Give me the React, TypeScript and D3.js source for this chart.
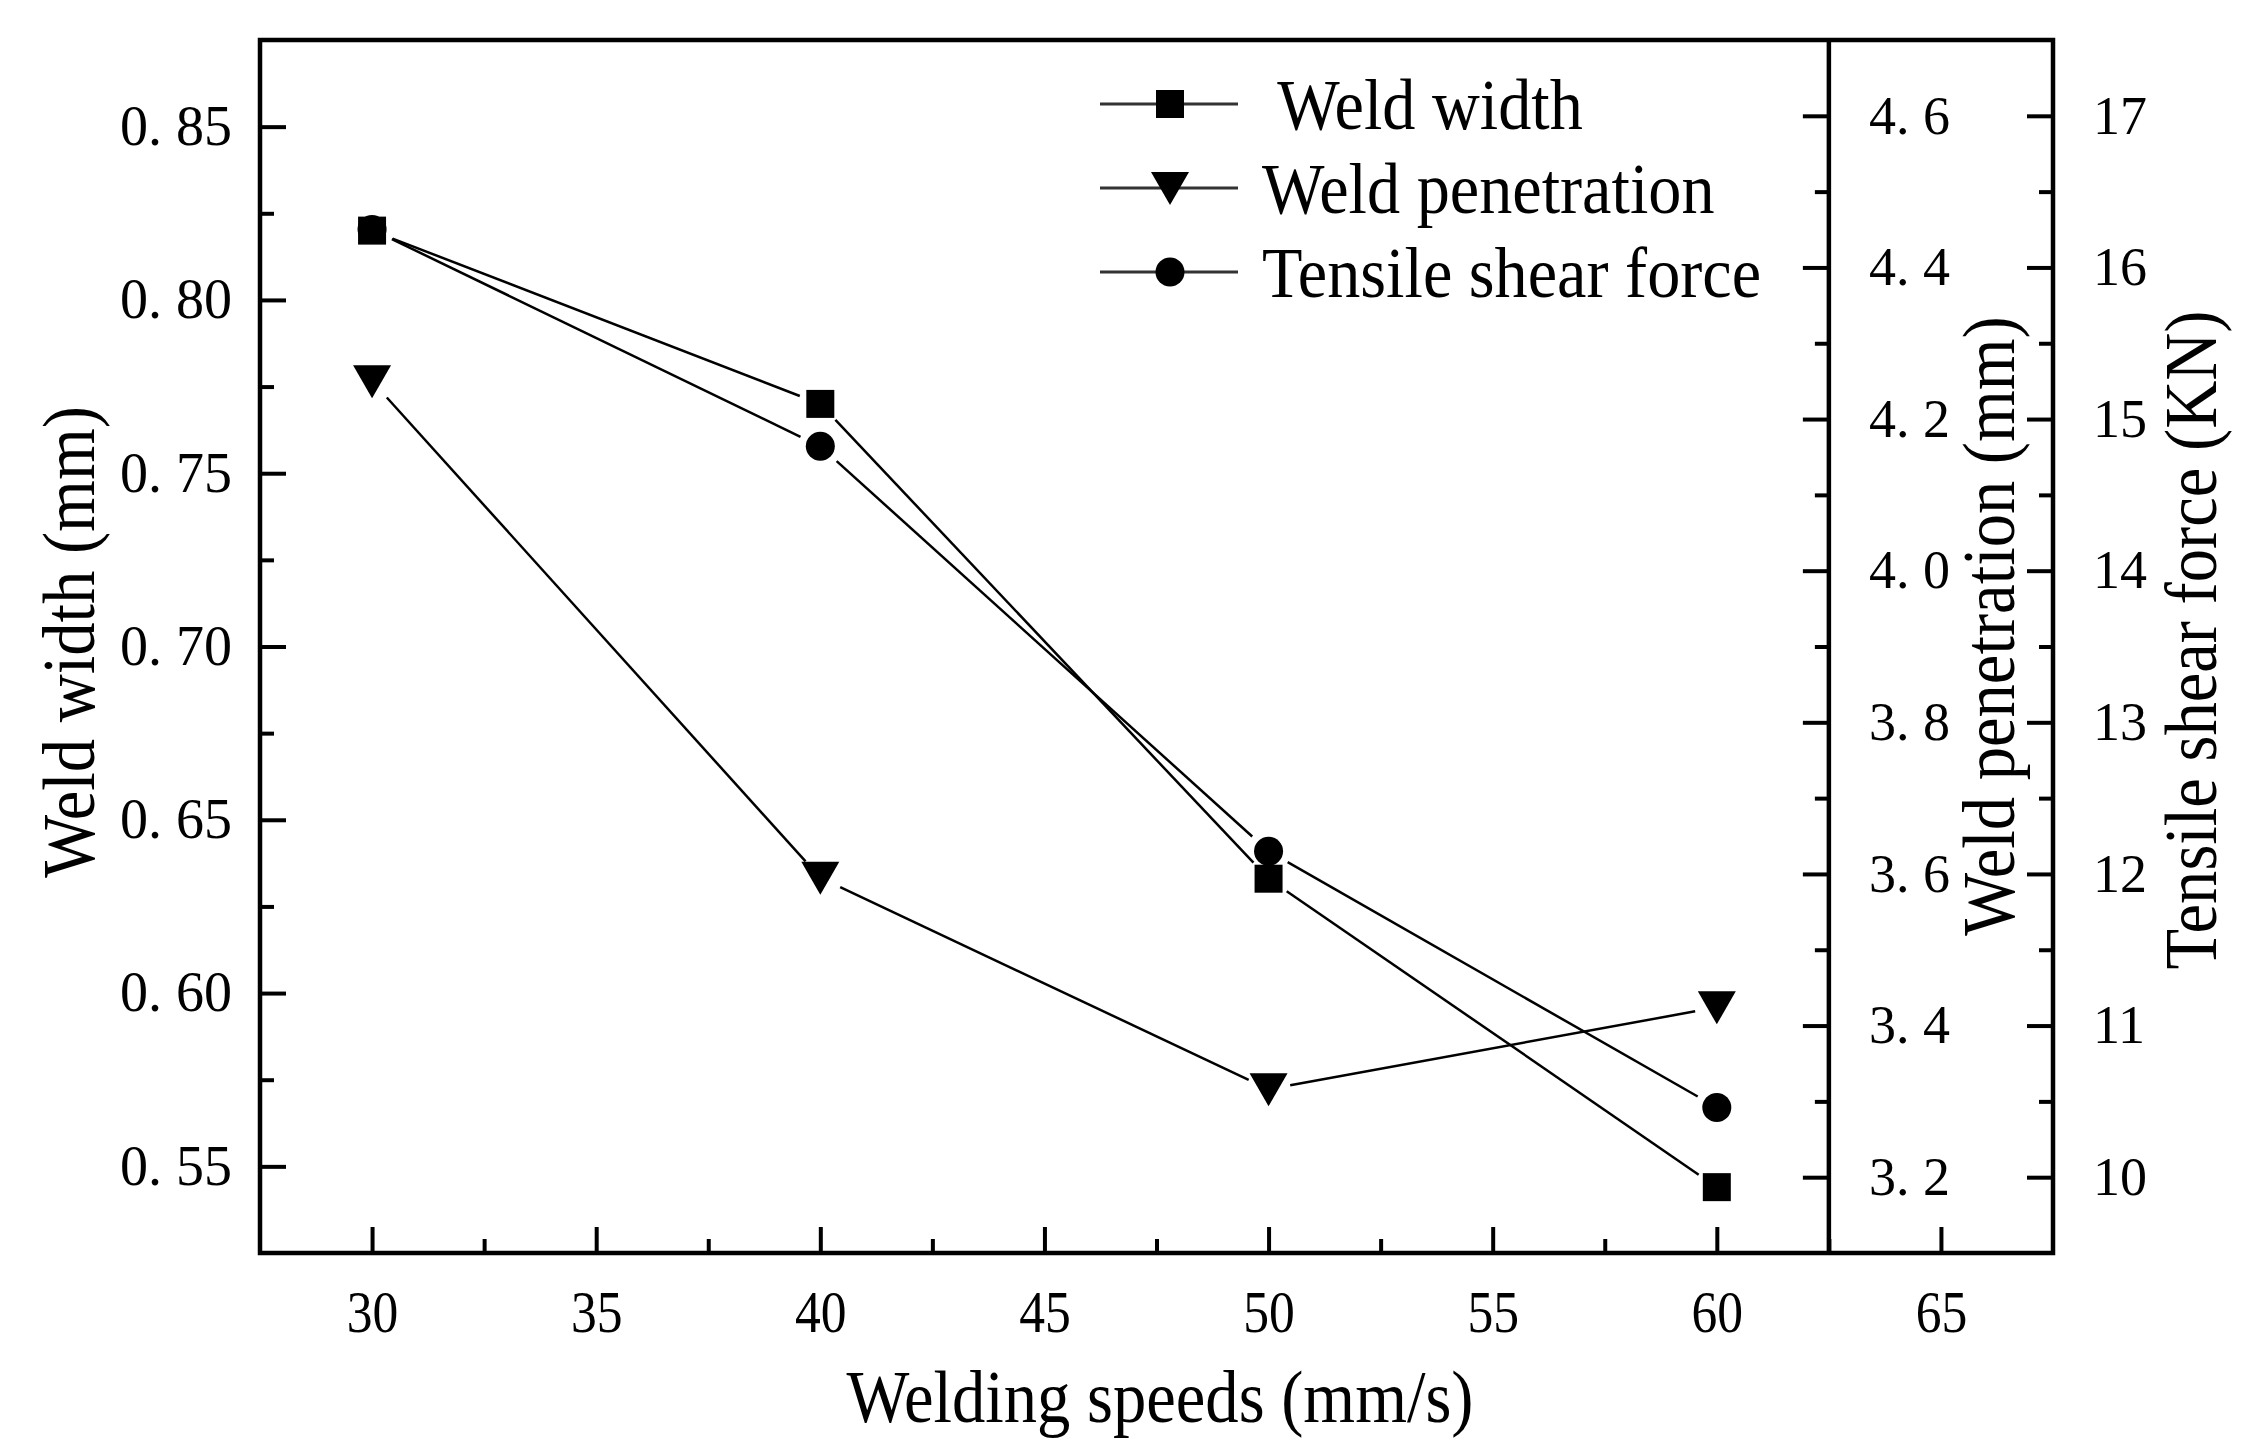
import React, { useEffect, useRef } from 'react';
import * as d3 from 'd3';

// values
const speeds = [30, 40, 50, 60];
const weldWidth = [0.82, 0.77, 0.633, 0.544];
const weldPenetration = [4.25, 3.595, 3.316, 3.424];
const tensileForce = [16.25, 14.82, 12.15, 10.46];

const xTicks = [30, 35, 40, 45, 50, 55, 60, 65];
const widthTicks = [0.55, 0.6, 0.65, 0.7, 0.75, 0.8, 0.85];
const penTicks = [3.2, 3.4, 3.6, 3.8, 4.0, 4.2, 4.4, 4.6];
const forceTicks = [10, 11, 12, 13, 14, 15, 16, 17];

const legendLabels = [' Weld width', 'Weld penetration', 'Tensile shear force'];
const markerTypes = ['square', 'triangle', 'circle'];

const W = 2252;
const H = 1443;
const frame = { left: 260, right: 2053, top: 40, bottom: 1253 };
const FONT = '"Liberation Serif", "Times New Roman", serif';

const markerPath = (type: string) => {
    if (type === 'square') return d3.symbol(d3.symbolSquare, 28 * 28)()!;
    if (type === 'circle') return d3.symbol(d3.symbolCircle, Math.PI * 14.5 * 14.5)()!;
    const p = d3.path();
    p.moveTo(-19, -16);
    p.lineTo(19, -16);
    p.lineTo(0, 17);
    p.closePath();
    return p.toString();
};

const App: React.FC = () => {
    const svgRef = useRef<SVGSVGElement>(null);

    useEffect(() => {
        if (!svgRef.current) return;
        const svg = d3.select(svgRef.current);
        svg.selectAll('*').remove();

        const x = d3.scaleLinear().domain([27.5, 67.5]).range([frame.left, frame.right]);
        const yW = d3.scaleLinear().domain([0.525, 0.875]).range([frame.bottom, frame.top]);
        const yP = d3.scaleLinear().domain([3.1, 4.7]).range([frame.bottom, frame.top]);
        const yF = d3.scaleLinear().domain([9.5, 17.5]).range([frame.bottom, frame.top]);
        const midX = x(62.5);

        const fmt2 = (v: number) => d3.format('.2f')(v).replace('.', '. ');
        const fmt1 = (v: number) => d3.format('.1f')(v).replace('.', '. ');

        const styleAxis = (g: d3.Selection<SVGGElement, unknown, null, undefined>, size: number) => {
            g.select('.domain').remove();
            g.selectAll('line').attr('stroke', '#000').attr('stroke-width', 4);
            g.selectAll('text')
                .attr('fill', '#000')
                .style('font-family', FONT)
                .style('font-size', `${size}px`);
        };

        // minor ticks
        const minor = (axis: d3.Axis<d3.NumberValue>, tx: number, ty: number) => {
            const g = svg.append('g').attr('transform', `translate(${tx},${ty})`).call(axis.tickFormat(() => ''));
            styleAxis(g, 10);
        };
        minor(d3.axisBottom(x).tickValues(d3.range(32.5, 65, 5)).tickSize(-14).tickSizeOuter(0), 0, frame.bottom);
        minor(d3.axisLeft(yW).tickValues(d3.range(0.575, 0.86, 0.05)).tickSize(-14).tickSizeOuter(0), frame.left, 0);
        minor(d3.axisRight(yP).tickValues(d3.range(3.3, 4.65, 0.2)).tickSize(-14).tickSizeOuter(0), midX, 0);
        minor(d3.axisRight(yF).tickValues(d3.range(10.5, 17, 1)).tickSize(-14).tickSizeOuter(0), frame.right, 0);

        // major axes
        const gx = svg.append('g')
            .attr('transform', `translate(0,${frame.bottom})`)
            .call(d3.axisBottom(x).tickValues(xTicks).tickSize(-26).tickSizeOuter(0).tickPadding(36).tickFormat(d3.format('d')));
        styleAxis(gx, 60);
        gx.selectAll('text').attr('transform', 'scale(0.86,1)');

        const gyW = svg.append('g')
            .attr('transform', `translate(${frame.left},0)`)
            .call(d3.axisLeft(yW).tickValues(widthTicks).tickSize(-26).tickSizeOuter(0).tickPadding(28).tickFormat(fmt2 as any));
        styleAxis(gyW, 56);

        const gyP = svg.append('g')
            .attr('transform', `translate(${midX},0)`)
            .call(d3.axisRight(yP).tickValues(penTicks).tickSize(-26).tickSizeOuter(0).tickPadding(40).tickFormat(fmt1 as any));
        styleAxis(gyP, 54);

        const gyF = svg.append('g')
            .attr('transform', `translate(${frame.right},0)`)
            .call(d3.axisRight(yF).tickValues(forceTicks).tickSize(-26).tickSizeOuter(0).tickPadding(40).tickFormat(d3.format('d')));
        styleAxis(gyF, 54);

        // frame and middle axis line
        svg.append('rect')
            .attr('x', frame.left).attr('y', frame.top)
            .attr('width', frame.right - frame.left).attr('height', frame.bottom - frame.top)
            .attr('fill', 'none').attr('stroke', '#000').attr('stroke-width', 4.5);
        svg.append('line')
            .attr('x1', midX).attr('x2', midX).attr('y1', frame.top).attr('y2', frame.bottom)
            .attr('stroke', '#000').attr('stroke-width', 4.5);

        // series
        const series = [
            { values: weldWidth, y: yW, marker: markerTypes[0] },
            { values: weldPenetration, y: yP, marker: markerTypes[1] },
            { values: tensileForce, y: yF, marker: markerTypes[2] },
        ];

        const gap = 22;
        series.forEach(s => {
            const pts = speeds.map((v, i) => [x(v), s.y(s.values[i])] as [number, number]);
            const segs = d3.pairs(pts).map(([a, b]) => {
                const dx = b[0] - a[0], dy = b[1] - a[1];
                const len = Math.hypot(dx, dy);
                const ux = dx / len, uy = dy / len;
                return [[a[0] + ux * gap, a[1] + uy * gap], [b[0] - ux * gap, b[1] - uy * gap]];
            });
            svg.append('g').selectAll('line').data(segs).join('line')
                .attr('x1', d => d[0][0]).attr('y1', d => d[0][1])
                .attr('x2', d => d[1][0]).attr('y2', d => d[1][1])
                .attr('stroke', '#000').attr('stroke-width', 2.5);
            svg.append('g').selectAll('path').data(pts).join('path')
                .attr('transform', d => `translate(${d[0]},${d[1]})`)
                .attr('d', markerPath(s.marker))
                .attr('fill', '#000');
        });

        // legend
        const legend = svg.append('g').attr('transform', 'translate(1100,104)');
        legendLabels.forEach((label, i) => {
            const row = legend.append('g').attr('transform', `translate(0,${i * 84})`);
            row.append('line').attr('x1', 0).attr('x2', 138).attr('y1', 0).attr('y2', 0)
                .attr('stroke', '#333').attr('stroke-width', 3);
            row.append('path').attr('transform', 'translate(70,0)').attr('d', markerPath(markerTypes[i])).attr('fill', '#000');
            row.append('text')
                .attr('transform', 'translate(162,0) scale(0.92,1)')
                .attr('dy', '0.35em')
                .style('font-family', FONT).style('font-size', '72px')
                .style('white-space', 'pre')
                .text(label);
        });

        // axis titles
        const title = (txt: string, tx: number, ty: number, rot: number) => {
            svg.append('text')
                .attr('transform', `translate(${tx},${ty}) rotate(${rot}) scale(0.9,1)`)
                .attr('text-anchor', 'middle').attr('dy', '0.35em')
                .style('font-family', FONT).style('font-size', '74px')
                .text(txt);
        };
        title('Welding speeds (mm/s)', 1160, 1396, 0);
        title('Weld width (mm)', 68, 642, -90);
        title('Weld penetration (mm)', 1988, 626, -90);
        title('Tensile shear force (KN)', 2190, 640, -90);
    }, []);

    return (
        <svg ref={svgRef} width={W} height={H}
            style={{ position: 'absolute', left: 0, top: 0, background: '#fff' }} />
    );
};

export default App;
